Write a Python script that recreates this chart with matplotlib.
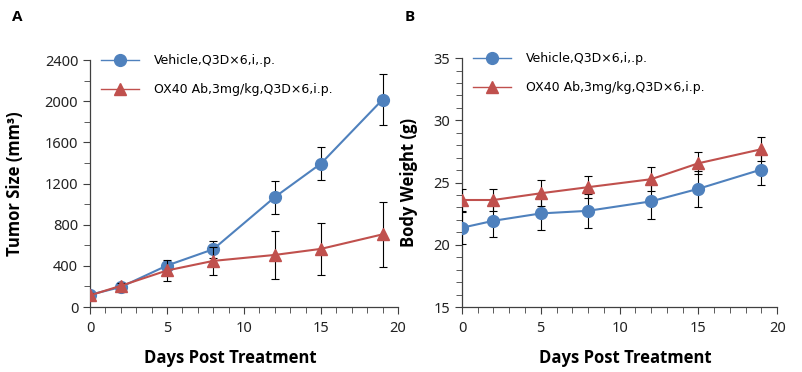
import matplotlib
matplotlib.use("Agg")
import matplotlib.pyplot as plt
from matplotlib.ticker import MultipleLocator
from matplotlib.lines import Line2D

plt.rcParams['font.family'] = ['Noto Sans', 'DejaVu Sans']
BOLD = ['Open Sans', 'DejaVu Sans']

# data
days = [0, 2, 5, 8, 12, 15, 19]

tumor_vehicle = [119, 194, 403, 561, 1068, 1394, 2016]
tumor_vehicle_err = [30, 25, 38, 80, 161, 160, 245]
tumor_ox40 = [113, 206, 355, 448, 506, 565, 706]
tumor_ox40_err = [25, 30, 106, 139, 237, 252, 319]

weight_vehicle = [21.37, 21.93, 22.52, 22.73, 23.49, 24.5, 26.05]
weight_vehicle_err = [1.3, 1.3, 1.3, 1.35, 1.45, 1.45, 1.25]
weight_ox40 = [23.6, 23.6, 24.14, 24.63, 25.27, 26.55, 27.68]
weight_ox40_err = [0.9, 0.9, 1.05, 0.9, 0.95, 0.9, 0.95]

label_vehicle = "Vehicle,Q3D×6,i,.p."
label_ox40 = "OX40 Ab,3mg/kg,Q3D×6,i.p."

blue = "#4F81BD"
red = "#C0504D"

fig = plt.figure(figsize=(8.02, 3.72), dpi=100)
axA = fig.add_axes([0.1122, 0.1747, 0.3841, 0.664])
axB = fig.add_axes([0.576, 0.1747, 0.393, 0.669])


def draw(ax, y1, e1, y2, e2):
    ax.errorbar(days, y1, yerr=e1, color=blue, lw=1.5, marker='o', ms=8.5,
                ecolor='black', elinewidth=0.8, capsize=3, capthick=0.8,
                zorder=3)
    ax.errorbar(days, y2, yerr=e2, color=red, lw=1.5, marker='^', ms=8.5,
                ecolor='black', elinewidth=0.8, capsize=3, capthick=0.8,
                zorder=4)
    for s in ['top', 'right']:
        ax.spines[s].set_visible(False)
    for s in ['left', 'bottom']:
        ax.spines[s].set_color('#404040')
        ax.spines[s].set_linewidth(0.9)
    ax.set_xlim(0, 20)
    ax.xaxis.set_major_locator(MultipleLocator(5))
    ax.xaxis.set_minor_locator(MultipleLocator(1))
    ax.tick_params(which='both', direction='out', color='#404040',
                   labelsize=10.5, labelcolor='#222222')
    ax.tick_params(which='major', length=5)
    ax.tick_params(which='minor', length=4)
    ax.tick_params(axis='x', pad=5)
    ax.set_xlabel("Days Post Treatment", fontsize=12, fontweight='bold',
                  family=BOLD)
    handles = [
        Line2D([], [], color=blue, lw=1.0, marker='o', ms=8.5),
        Line2D([], [], color=red, lw=1.0, marker='^', ms=8.5),
    ]
    ax.legend(handles, [label_vehicle, label_ox40], loc='upper left',
              frameon=False, handlelength=3.0,
              handletextpad=1.2, labelspacing=1.3, borderaxespad=0.0,
              bbox_to_anchor=(0.02, 1.045),
              prop={'family': ['DejaVu Sans'], 'size': 9})


draw(axA, tumor_vehicle, tumor_vehicle_err, tumor_ox40, tumor_ox40_err)
axA.set_ylim(0, 2400)
axA.yaxis.set_major_locator(MultipleLocator(400))
axA.yaxis.set_minor_locator(MultipleLocator(200))
axA.set_ylabel("Tumor Size (mm³)", fontsize=12, fontweight='bold',
               family=BOLD)
axA.xaxis.set_label_coords(0.455, -0.17)
axA.yaxis.set_label_coords(-0.215, 0.5)

draw(axB, weight_vehicle, weight_vehicle_err, weight_ox40, weight_ox40_err)
axB.set_ylim(15, 35)
axB.yaxis.set_major_locator(MultipleLocator(5))
axB.yaxis.set_minor_locator(MultipleLocator(1))
axB.set_ylabel("Body Weight (g)", fontsize=12, fontweight='bold',
               family=BOLD)
axB.xaxis.set_label_coords(0.517, -0.17)
axB.yaxis.set_label_coords(-0.14, 0.5)

fig.text(12 / 802, 1 - 17 / 372, "A", fontsize=11, fontweight='bold',
         family=BOLD, va='center', ha='left')
fig.text(405 / 802, 1 - 17 / 372, "B", fontsize=11, fontweight='bold',
         family=BOLD, va='center', ha='left')

fig.savefig("out.png", dpi=100)
